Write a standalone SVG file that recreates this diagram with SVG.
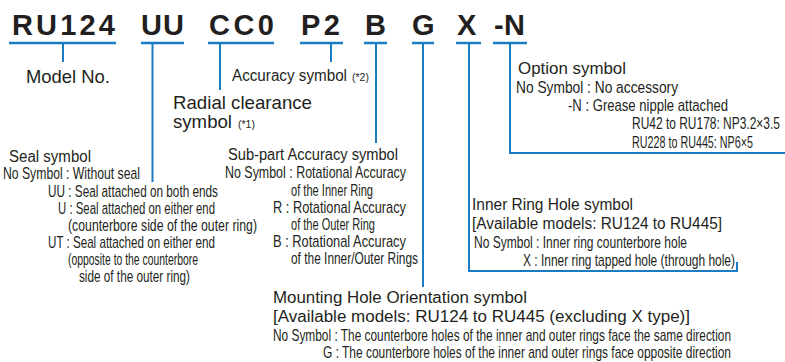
<svg xmlns="http://www.w3.org/2000/svg" width="785" height="362" viewBox="0 0 785 362">
<style>
text{font-family:"Liberation Sans",Arial,sans-serif;fill:#231f20}
.code{font-size:29px;font-weight:bold}
.big{font-size:18.5px}
.ttl{font-size:16px}
.sub{font-size:16px}
.note{font-size:10.5px}
.ln{stroke:#1a7dc4;stroke-width:2;fill:none}
.ul{stroke:#1a7dc4;stroke-width:2.5}
</style>
<rect width="785" height="362" fill="#fff"/>
<g id="code">
<text class="code" x="12" y="35" textLength="103" lengthAdjust="spacing">RU124</text>
<text class="code" x="141" y="35" textLength="43" lengthAdjust="spacing">UU</text>
<text class="code" x="209" y="35" textLength="65" lengthAdjust="spacing">CC0</text>
<text class="code" x="301" y="35" textLength="39" lengthAdjust="spacing">P2</text>
<text class="code" x="365" y="35">B</text>
<text class="code" x="412" y="35">G</text>
<text class="code" x="457" y="35">X</text>
<text class="code" x="494" y="35" textLength="31" lengthAdjust="spacing">-N</text>
</g>
<g id="connectors">
<line class="ul" x1="9" y1="43" x2="116" y2="43"/>
<line class="ul" x1="141" y1="43" x2="184" y2="43"/>
<line class="ul" x1="208" y1="43" x2="274" y2="43"/>
<line class="ul" x1="300" y1="43" x2="343" y2="43"/>
<line class="ul" x1="364" y1="43" x2="387" y2="43"/>
<line class="ul" x1="412" y1="43" x2="434" y2="43"/>
<line class="ul" x1="456" y1="43" x2="481" y2="43"/>
<line class="ul" x1="493" y1="43" x2="527" y2="43"/>
<path class="ln" d="M63 43V62"/>
<path class="ln" d="M152.5 43V182"/>
<path class="ln" d="M220 43V90"/>
<path class="ln" d="M331 43V62"/>
<path class="ln" d="M376 43V143"/>
<path class="ln" d="M423 43V287"/>
<path class="ln" d="M469 43V271H737V262"/>
<path class="ln" d="M510 43V153H785"/>
</g>
<g id="model">
<text class="big" x="26" y="83" textLength="84" lengthAdjust="spacingAndGlyphs">Model No.</text>
</g>
<g id="accuracy">
<text class="ttl" x="232" y="81" textLength="115" lengthAdjust="spacingAndGlyphs">Accuracy symbol</text>
<text class="note" x="352" y="81">(*2)</text>
</g>
<g id="radial">
<text class="big" x="173" y="109" textLength="139" lengthAdjust="spacingAndGlyphs">Radial clearance</text>
<text class="big" x="173" y="128" textLength="59" lengthAdjust="spacingAndGlyphs">symbol</text>
<text class="note" x="238" y="128">(*1)</text>
</g>
<g id="seal">
<text class="ttl" x="9" y="161.5" textLength="82" lengthAdjust="spacingAndGlyphs">Seal symbol</text>
<text class="sub" transform="translate(3 179) scale(.78 1)" textLength="175.6" lengthAdjust="spacingAndGlyphs">No Symbol : Without seal</text>
<text class="sub" transform="translate(48 196.5) scale(.78 1)" textLength="217.9" lengthAdjust="spacingAndGlyphs">UU : Seal attached on both ends</text>
<text class="sub" transform="translate(58 213.5) scale(.78 1)" textLength="201.3" lengthAdjust="spacingAndGlyphs">U : Seal attached on either end</text>
<text class="sub" transform="translate(68 230.5) scale(.78 1)" textLength="242.3" lengthAdjust="spacingAndGlyphs">(counterbore side of the outer ring)</text>
<text class="sub" transform="translate(48 247.5) scale(.78 1)" textLength="214.1" lengthAdjust="spacingAndGlyphs">UT : Seal attached on either end</text>
<text class="sub" transform="translate(68 264.5) scale(.78 1)" textLength="166.7" lengthAdjust="spacingAndGlyphs">(opposite to the counterbore</text>
<text class="sub" transform="translate(79 281.5) scale(.78 1)" textLength="142.3" lengthAdjust="spacingAndGlyphs">side of the outer ring)</text>
</g>
<g id="subpart">
<text class="ttl" x="228" y="160" textLength="170" lengthAdjust="spacingAndGlyphs">Sub-part Accuracy symbol</text>
<text class="sub" transform="translate(225 178) scale(.78 1)" textLength="232.1" lengthAdjust="spacingAndGlyphs">No Symbol : Rotational Accuracy</text>
<text class="sub" transform="translate(291 195.5) scale(.78 1)" textLength="105.1" lengthAdjust="spacingAndGlyphs">of the Inner Ring</text>
<text class="sub" transform="translate(273 212.5) scale(.78 1)" textLength="170.5" lengthAdjust="spacingAndGlyphs">R : Rotational Accuracy</text>
<text class="sub" transform="translate(291 229.5) scale(.78 1)" textLength="107.7" lengthAdjust="spacingAndGlyphs">of the Outer Ring</text>
<text class="sub" transform="translate(273 246.5) scale(.78 1)" textLength="170.5" lengthAdjust="spacingAndGlyphs">B : Rotational Accuracy</text>
<text class="sub" transform="translate(291 263.5) scale(.78 1)" textLength="162.8" lengthAdjust="spacingAndGlyphs">of the Inner/Outer Rings</text>
</g>
<g id="option">
<text class="ttl" x="518" y="74" textLength="108" lengthAdjust="spacingAndGlyphs">Option symbol</text>
<text class="sub" transform="translate(516 93) scale(.78 1)" textLength="207.7" lengthAdjust="spacingAndGlyphs">No Symbol : No accessory</text>
<text class="sub" transform="translate(568 111) scale(.78 1)" textLength="205.1" lengthAdjust="spacingAndGlyphs">-N : Grease nipple attached</text>
<text class="sub" transform="translate(632 129) scale(.78 1)" textLength="189.7" lengthAdjust="spacingAndGlyphs">RU42 to RU178: NP3.2×3.5</text>
<text class="sub" transform="translate(632 148) scale(.78 1)" textLength="155.1" lengthAdjust="spacingAndGlyphs">RU228 to RU445: NP6×5</text>
</g>
<g id="innerhole">
<text class="ttl" x="472" y="210" textLength="161" lengthAdjust="spacingAndGlyphs">Inner Ring Hole symbol</text>
<text class="ttl" x="472" y="229" textLength="250" lengthAdjust="spacingAndGlyphs">[Available models: RU124 to RU445]</text>
<text class="sub" transform="translate(474 248) scale(.78 1)" textLength="273.1" lengthAdjust="spacingAndGlyphs">No Symbol : Inner ring counterbore hole</text>
<text class="sub" transform="translate(523 266) scale(.78 1)" textLength="271.8" lengthAdjust="spacingAndGlyphs">X : Inner ring tapped hole (through hole)</text>
</g>
<g id="mounting">
<text class="ttl" x="273" y="303" textLength="254" lengthAdjust="spacingAndGlyphs">Mounting Hole Orientation symbol</text>
<text class="ttl" x="273" y="322" textLength="417" lengthAdjust="spacingAndGlyphs">[Available models: RU124 to RU445 (excluding X type)]</text>
<text class="sub" transform="translate(273 341) scale(.78 1)" textLength="587.2" lengthAdjust="spacingAndGlyphs">No Symbol : The counterbore holes of the inner and outer rings face the same direction</text>
<text class="sub" transform="translate(323 358) scale(.78 1)" textLength="523.1" lengthAdjust="spacingAndGlyphs">G : The counterbore holes of the inner and outer rings face opposite direction</text>
</g>
</svg>
